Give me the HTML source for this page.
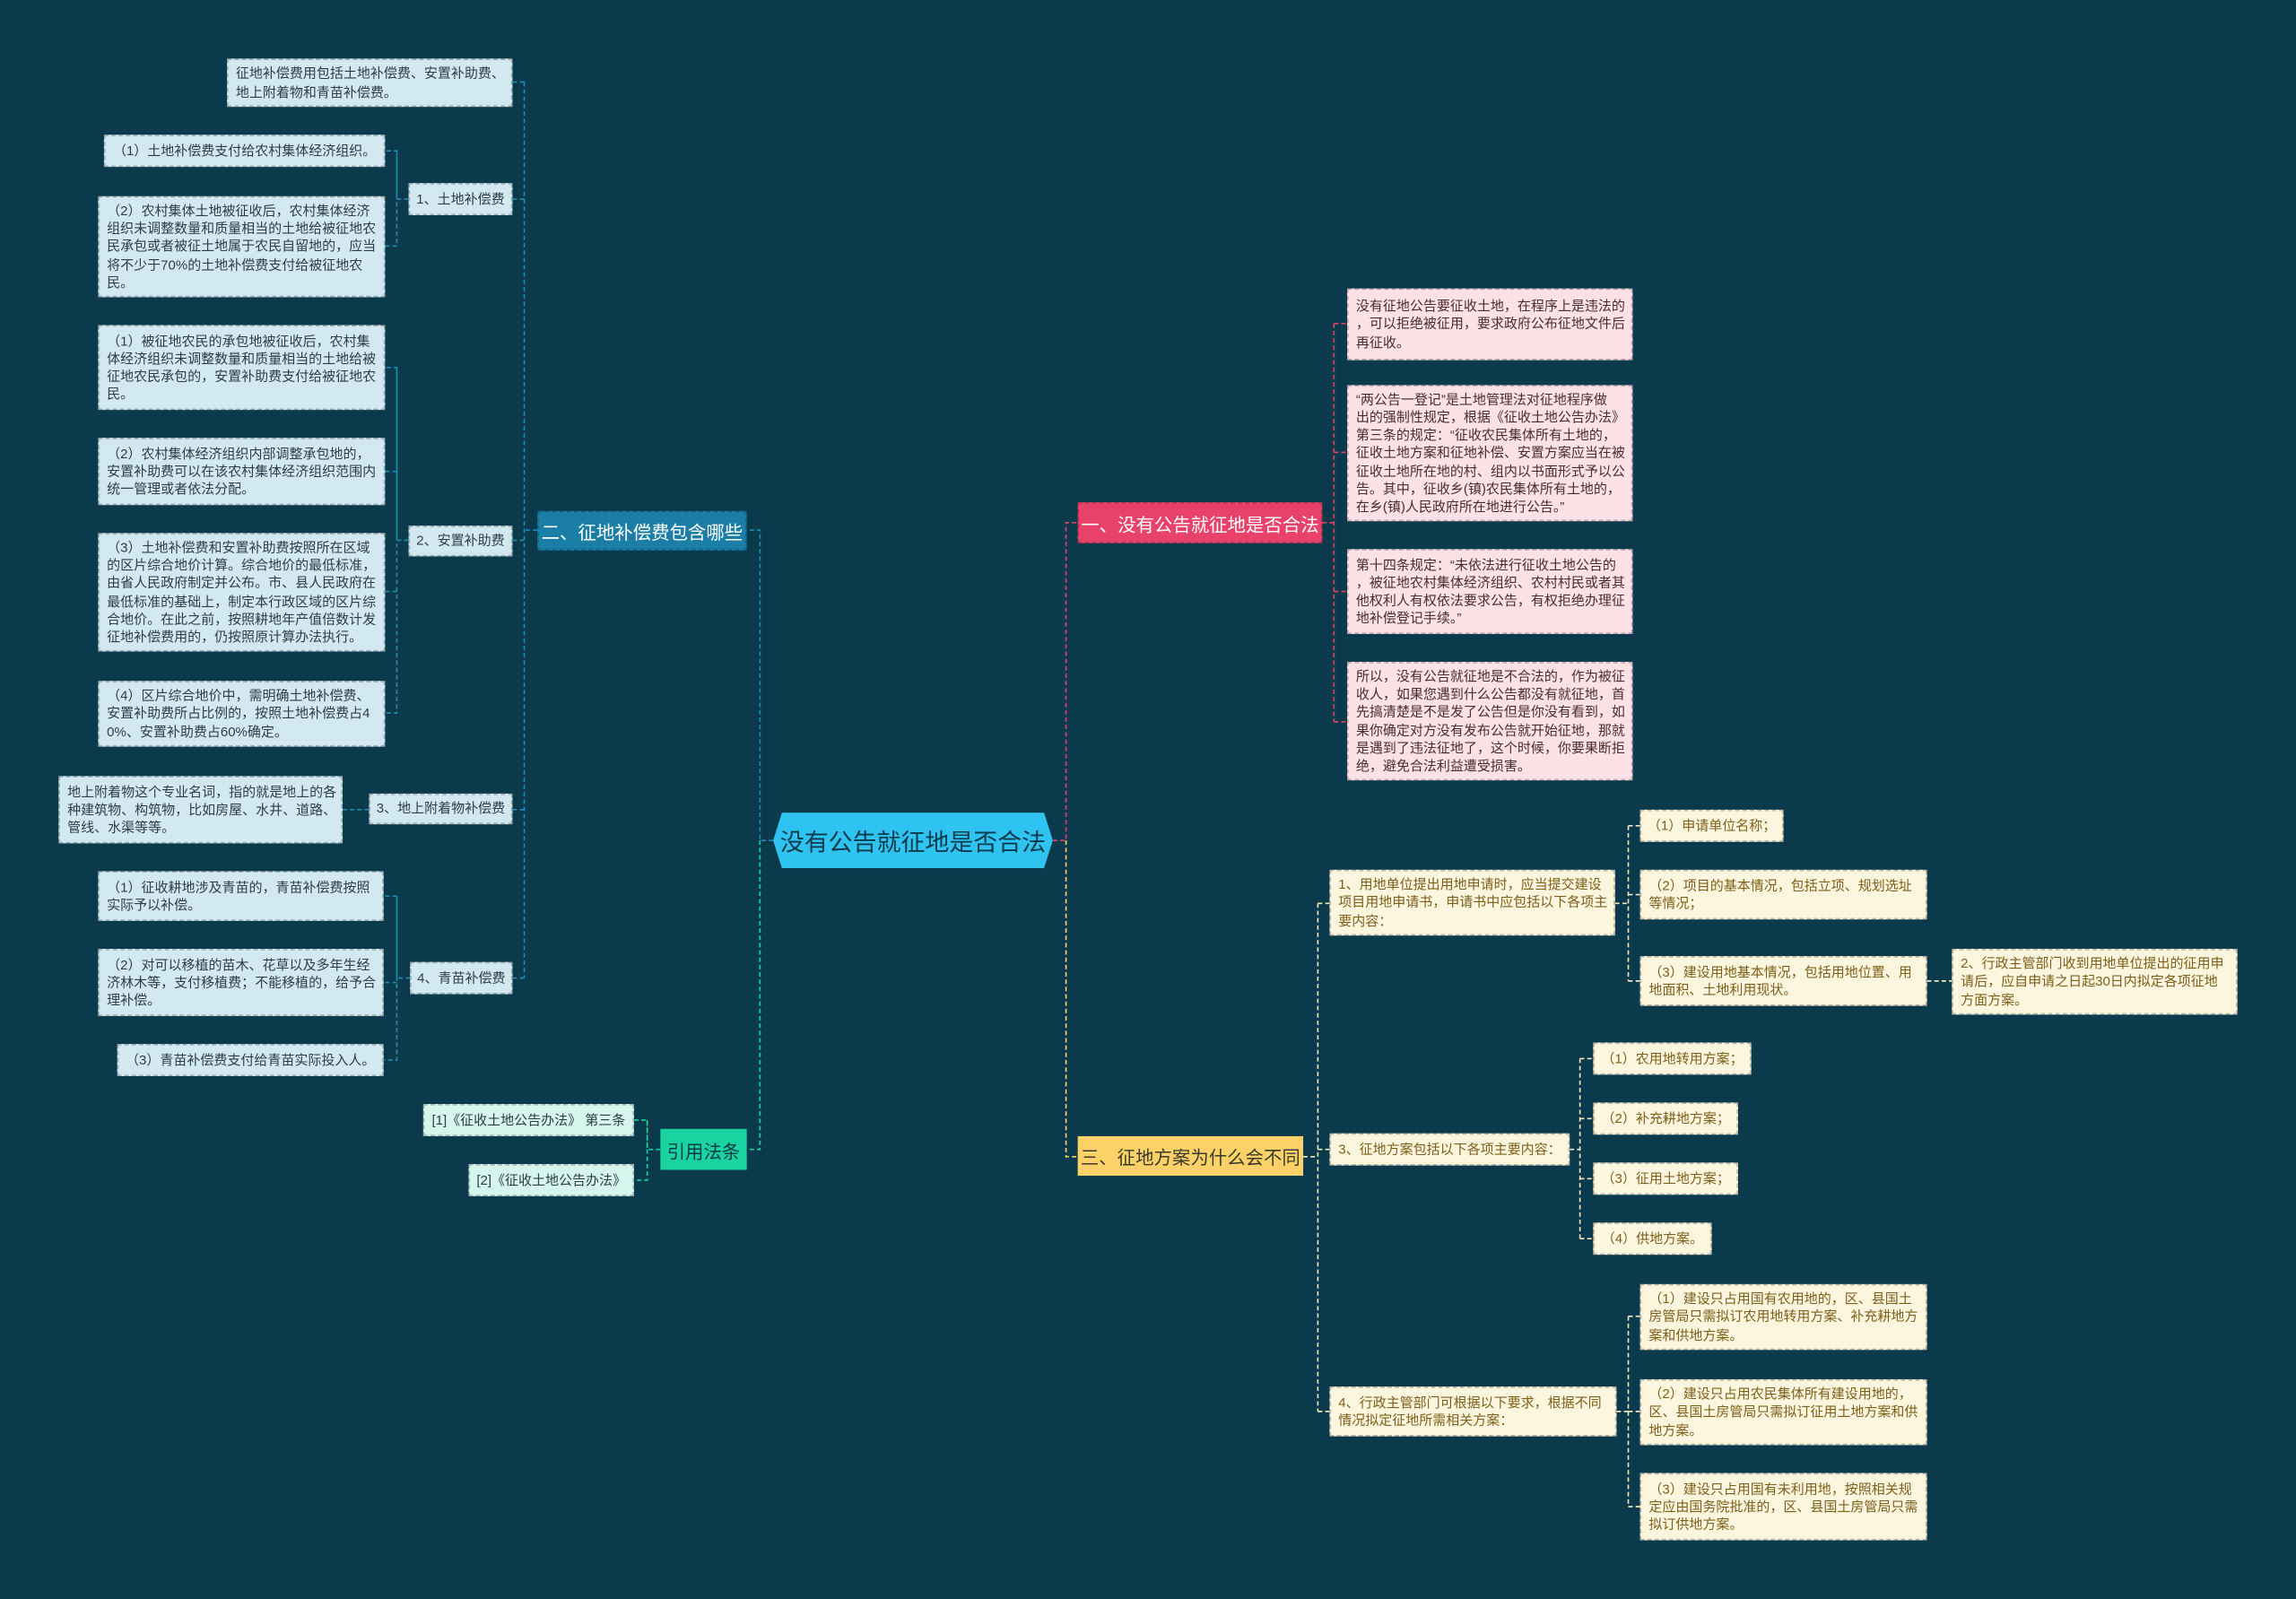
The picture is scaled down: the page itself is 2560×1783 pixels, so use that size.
<!DOCTYPE html>
<html><head><meta charset="utf-8">
<style>
html,body{margin:0;padding:0;background:#0a3a4b;width:2560px;height:1783px;overflow:hidden}
.c{position:absolute;left:0;top:0;width:1568px;height:1092px;transform:scale(1.63265);transform-origin:0 0;font-family:"Liberation Sans","Noto Sans CJK SC",sans-serif}
.b{position:absolute;box-sizing:border-box;display:flex;align-items:center;padding:0 5px;font-size:9.2px;line-height:12.2px;white-space:nowrap;border:1px dashed rgba(0,0,0,.25)}
.l{background:#d3e9f1;color:#2c3e46}
.g{background:#d6f5ec;color:#2c3e46}
.p{background:#fde1e7;color:#4a2b32}
.y{background:#fdf6df;color:#7d5f1a}
.t{position:absolute;box-sizing:border-box;display:flex;align-items:center;justify-content:center;font-size:12.5px;white-space:nowrap}
</style></head><body>
<div class="c">
<svg width="1568" height="1092" style="position:absolute;left:0;top:0" fill="none" stroke-width="1" stroke-dasharray="3 2">
<g stroke="#1f8cb3">
<path d="M528 574H519V362H510"/>
<path d="M367 362H358M358 56V668M358 56H350M358 136H350M358 369H350M358 553H350M358 668H350"/>
<path d="M279 136H271V103H263M271 103V168H263"/>
<path d="M279 369H271V251H263M271 251V487H263M271 322H263M271 404H263"/>
<path d="M252 553H234"/>
<path d="M280 668H271V612H262M271 612V724H262M271 671H262"/>
</g>
<g stroke="#19d3a0">
<path d="M519 574V785H510"/>
<path d="M451 785H442V765H433M442 765V806H433"/>
</g>
<g stroke="#e8416a">
<path d="M719 574H728V357H736"/>
<path d="M903 357H911M911 221V493M911 221H920M911 309H920M911 404H920M911 493H920"/>
</g>
<g stroke="#fcd268">
<path d="M728 574V790H736"/>
</g>
<g stroke="#f3e6bd">
<path d="M890 790H900M900 617V964M900 617H908M900 785H908M900 964H908"/>
<path d="M1103 617H1112M1112 564V670M1112 564H1120M1112 611H1120M1112 670H1120M1316 670H1333"/>
<path d="M1072 785H1079M1079 723V846M1079 723H1088M1079 764H1088M1079 805H1088M1079 846H1088"/>
<path d="M1104 964H1112M1112 899V1029M1112 899H1120M1112 964H1120M1112 1029H1120"/>
</g>
</svg>

<div class="b l" style="left:155px;top:40px;width:195px;height:33px">征地补偿费用包括土地补偿费、安置补助费、<br>地上附着物和青苗补偿费。</div>
<div class="b l" style="left:71px;top:92px;width:192px;height:22px;justify-content:center">（1）土地补偿费支付给农村集体经济组织。</div>
<div class="b l" style="left:67px;top:134px;width:196px;height:69px">（2）农村集体土地被征收后，农村集体经济<br>组织未调整数量和质量相当的土地给被征地农<br>民承包或者被征土地属于农民自留地的，应当<br>将不少于70%的土地补偿费支付给被征地农<br>民。</div>
<div class="b l" style="left:279px;top:125px;width:71px;height:22px;justify-content:center">1、土地补偿费</div>
<div class="b l" style="left:67px;top:222px;width:196px;height:58px">（1）被征地农民的承包地被征收后，农村集<br>体经济组织未调整数量和质量相当的土地给被<br>征地农民承包的，安置补助费支付给被征地农<br>民。</div>
<div class="b l" style="left:67px;top:299px;width:196px;height:46px">（2）农村集体经济组织内部调整承包地的，<br>安置补助费可以在该农村集体经济组织范围内<br>统一管理或者依法分配。</div>
<div class="b l" style="left:67px;top:364px;width:196px;height:81px">（3）土地补偿费和安置补助费按照所在区域<br>的区片综合地价计算。综合地价的最低标准，<br>由省人民政府制定并公布。市、县人民政府在<br>最低标准的基础上，制定本行政区域的区片综<br>合地价。在此之前，按照耕地年产值倍数计发<br>征地补偿费用的，仍按照原计算办法执行。</div>
<div class="b l" style="left:67px;top:465px;width:196px;height:45px">（4）区片综合地价中，需明确土地补偿费、<br>安置补助费所占比例的，按照土地补偿费占4<br>0%、安置补助费占60%确定。</div>
<div class="b l" style="left:279px;top:359px;width:71px;height:21px;justify-content:center">2、安置补助费</div>
<div class="b l" style="left:40px;top:530px;width:194px;height:46px">地上附着物这个专业名词，指的就是地上的各<br>种建筑物、构筑物，比如房屋、水井、道路、<br>管线、水渠等等。</div>
<div class="b l" style="left:252px;top:542px;width:98px;height:21px;justify-content:center">3、地上附着物补偿费</div>
<div class="b l" style="left:67px;top:595px;width:195px;height:34px">（1）征收耕地涉及青苗的，青苗补偿费按照<br>实际予以补偿。</div>
<div class="b l" style="left:67px;top:648px;width:195px;height:46px">（2）对可以移植的苗木、花草以及多年生经<br>济林木等，支付移植费；不能移植的，给予合<br>理补偿。</div>
<div class="b l" style="left:80px;top:713px;width:182px;height:22px;justify-content:center">（3）青苗补偿费支付给青苗实际投入人。</div>
<div class="b l" style="left:280px;top:657px;width:70px;height:22px;justify-content:center">4、青苗补偿费</div>
<div class="t" style="left:367px;top:349px;width:143px;height:27px;background:#1a7ea6;color:#fff;border:1px dashed rgba(0,0,0,.2)">二、征地补偿费包含哪些</div>
<div class="b g" style="left:289px;top:754px;width:144px;height:22px;justify-content:center">[1]《征收土地公告办法》 第三条</div>
<div class="b g" style="left:320px;top:795px;width:113px;height:22px;justify-content:center">[2]《征收土地公告办法》</div>
<div class="t" style="left:451px;top:771px;width:59px;height:28px;background:#19d3a0;color:#0b3a4b">引用法条</div>

<svg style="position:absolute;left:528px;top:555px" width="191" height="38"><polygon points="6,0 185,0 191,19 185,38 6,38 0,19" fill="#2ec3f0"/></svg>
<div class="t" style="left:528px;top:555px;width:191px;height:38px;font-size:16.5px;color:#0b3a4b">没有公告就征地是否合法</div>

<div class="t" style="left:736px;top:343px;width:167px;height:28px;background:#e8416a;color:#fff;border:1px dashed rgba(0,0,0,.2)">一、没有公告就征地是否合法</div>
<div class="b p" style="left:920px;top:197px;width:195px;height:49px">没有征地公告要征收土地，在程序上是违法的<br>，可以拒绝被征用，要求政府公布征地文件后<br>再征收。</div>
<div class="b p" style="left:920px;top:263px;width:195px;height:93px">“两公告一登记”是土地管理法对征地程序做<br>出的强制性规定，根据《征收土地公告办法》<br>第三条的规定：“征收农民集体所有土地的，<br>征收土地方案和征地补偿、安置方案应当在被<br>征收土地所在地的村、组内以书面形式予以公<br>告。其中，征收乡(镇)农民集体所有土地的，<br>在乡(镇)人民政府所在地进行公告。”</div>
<div class="b p" style="left:920px;top:375px;width:195px;height:58px">第十四条规定：“未依法进行征收土地公告的<br>，被征地农村集体经济组织、农村村民或者其<br>他权利人有权依法要求公告，有权拒绝办理征<br>地补偿登记手续。”</div>
<div class="b p" style="left:920px;top:452px;width:195px;height:81px">所以，没有公告就征地是不合法的，作为被征<br>收人，如果您遇到什么公告都没有就征地，首<br>先搞清楚是不是发了公告但是你没有看到，如<br>果你确定对方没有发布公告就开始征地，那就<br>是遇到了违法征地了，这个时候，你要果断拒<br>绝，避免合法利益遭受损害。</div>

<div class="t" style="left:736px;top:776px;width:154px;height:27px;background:#fcd268;color:#3a3a2a">三、征地方案为什么会不同</div>
<div class="b y" style="left:908px;top:594px;width:195px;height:45px">1、用地单位提出用地申请时，应当提交建设<br>项目用地申请书，申请书中应包括以下各项主<br>要内容：</div>
<div class="b y" style="left:1120px;top:553px;width:98px;height:22px;justify-content:center">（1）申请单位名称；</div>
<div class="b y" style="left:1120px;top:594px;width:196px;height:34px">（2）项目的基本情况，包括立项、规划选址<br>等情况；</div>
<div class="b y" style="left:1120px;top:653px;width:196px;height:34px">（3）建设用地基本情况，包括用地位置、用<br>地面积、土地利用现状。</div>
<div class="b y" style="left:1333px;top:648px;width:195px;height:45px">2、行政主管部门收到用地单位提出的征用申<br>请后，应自申请之日起30日内拟定各项征地<br>方面方案。</div>
<div class="b y" style="left:908px;top:774px;width:164px;height:22px">3、征地方案包括以下各项主要内容：</div>
<div class="b y" style="left:1088px;top:712px;width:108px;height:22px;justify-content:center">（1）农用地转用方案；</div>
<div class="b y" style="left:1088px;top:753px;width:99px;height:22px;justify-content:center">（2）补充耕地方案；</div>
<div class="b y" style="left:1088px;top:794px;width:99px;height:22px;justify-content:center">（3）征用土地方案；</div>
<div class="b y" style="left:1088px;top:835px;width:81px;height:22px;justify-content:center">（4）供地方案。</div>
<div class="b y" style="left:908px;top:947px;width:196px;height:34px">4、行政主管部门可根据以下要求，根据不同<br>情况拟定征地所需相关方案：</div>
<div class="b y" style="left:1120px;top:877px;width:196px;height:45px">（1）建设只占用国有农用地的，区、县国土<br>房管局只需拟订农用地转用方案、补充耕地方<br>案和供地方案。</div>
<div class="b y" style="left:1120px;top:942px;width:196px;height:45px">（2）建设只占用农民集体所有建设用地的，<br>区、县国土房管局只需拟订征用土地方案和供<br>地方案。</div>
<div class="b y" style="left:1120px;top:1006px;width:196px;height:46px">（3）建设只占用国有未利用地，按照相关规<br>定应由国务院批准的，区、县国土房管局只需<br>拟订供地方案。</div>
</div>
</body></html>
